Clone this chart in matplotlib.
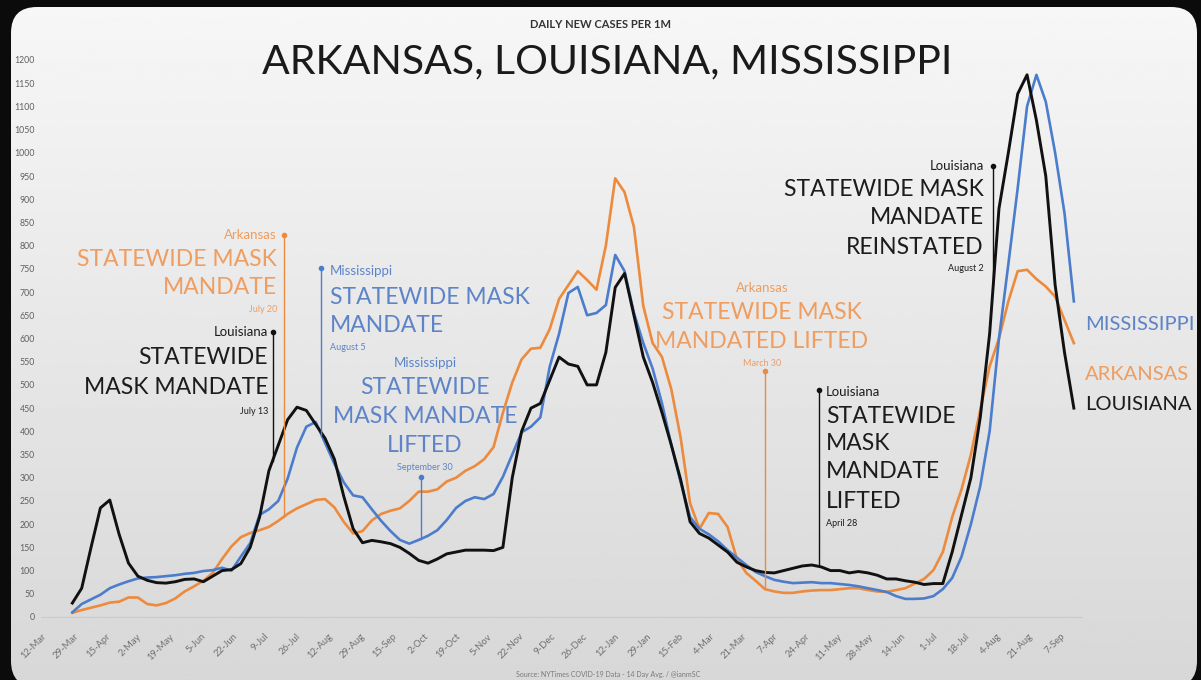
import numpy as np
import pandas as pd
import matplotlib
matplotlib.use("Agg")
import matplotlib.pyplot as plt
from matplotlib.patches import FancyBboxPatch

W, H = 1201, 680

# 14-day average of daily new cases per 1M, read every 5 days
dates = pd.date_range("2020-03-25", periods=108, freq="5D")
louisiana = [30, 62, 150, 235, 252, 178, 116, 88, 79, 74,
             73, 76, 81, 82, 76, 88, 100, 102, 115, 150,
             215, 315, 370, 425, 452, 445, 415, 385, 340, 260,
             190, 160, 165, 162, 158, 150, 137, 122, 116, 125,
             136, 140, 144, 144, 144, 143, 150, 300, 400, 450,
             460, 510, 560, 545, 540, 500, 500, 570, 710, 740,
             650, 560, 505, 440, 370, 295, 205, 180, 170, 155,
             140, 118, 108, 100, 96, 95, 100, 105, 110, 112,
             108, 100, 100, 95, 98, 95, 90, 82, 82, 78,
             75, 70, 72, 72, 140, 220, 300, 430, 610, 880,
             1000, 1127, 1168, 1070, 950, 715, 570, 450]
mississippi = [10, 28, 38, 48, 62, 70, 77, 83, 85, 86,
               88, 90, 93, 95, 99, 101, 106, 100, 130, 159,
               220, 232, 250, 298, 365, 410, 420, 375, 330, 290,
               262, 258, 232, 207, 185, 166, 158, 166, 175, 187,
               209, 235, 250, 258, 254, 265, 302, 350, 398, 410,
               430, 539, 610, 698, 711, 650, 655, 672, 780, 745,
               655, 590, 535, 460, 370, 290, 215, 190, 178, 163,
               144, 128, 112, 97, 88, 80, 76, 73, 74, 75,
               73, 73, 71, 69, 66, 62, 58, 54, 45, 39,
               39, 40, 45, 60, 84, 130, 200, 282, 400, 600,
               760, 924, 1100, 1168, 1110, 1000, 870, 680]
arkansas = [9, 15, 20, 25, 31, 33, 42, 42, 28, 25,
            30, 40, 55, 66, 78, 95, 125, 152, 172, 181,
            187, 194, 207, 222, 234, 243, 252, 254, 236, 205,
            180, 185, 208, 222, 229, 234, 250, 270, 270, 275,
            292, 300, 315, 325, 340, 366, 440, 505, 555, 578,
            580, 620, 685, 715, 745, 726, 705, 800, 945, 915,
            840, 670, 590, 560, 490, 385, 245, 190, 224, 222,
            194, 125, 95, 78, 60, 55, 52, 52, 55, 57,
            58, 58, 60, 62, 62, 58, 55, 54, 58, 62,
            72, 82, 101, 140, 215, 275, 350, 446, 540, 600,
            680, 745, 748, 728, 712, 690, 640, 590]

tick_dates = pd.date_range("2020-03-12", periods=33, freq="17D")
tick_labels = [f"{d.day}-{d.strftime('%b')}" for d in tick_dates]
y_ticks = list(range(0, 1201, 50))

C_LA = "#111111"
C_AR = "#ec8a3d"
C_MS = "#4b7dcc"
T_LA = "#1c1c1c"
T_AR = "#ef9d60"
T_MS = "#5d84c8"

fig = plt.figure(figsize=(W / 100, H / 100), dpi=100)
fig.patch.set_facecolor("#0b0b0b")

# background panel with a soft vertical gradient and rounded corners
bg = fig.add_axes([0, 0, 1, 1], zorder=-5)
bg.set_xlim(0, W)
bg.set_ylim(H, 0)
bg.axis("off")
grad = np.linspace(0.968, 0.845, 256).reshape(-1, 1)
img = bg.imshow(grad, cmap="gray", vmin=0, vmax=1, extent=[0, W, H, 0], aspect="auto")
panel = FancyBboxPatch((11 + 26, 7 + 26), 1186 - 52, 680 - 52,
                       boxstyle="round,pad=26", transform=bg.transData,
                       facecolor="none", edgecolor="none")
bg.add_patch(panel)
img.set_clip_path(panel)

# main plotting area
x0 = pd.Timestamp("2020-03-12")
px_per_day = 1.872
d_left, d_right = -4, 553
left_px = 48 + px_per_day * d_left
right_px = 48 + px_per_day * d_right
v_lo, v_hi = -20, 1220
bot_px = 617 - 0.4642 * v_lo
top_px = 617 - 0.4642 * v_hi
ax = fig.add_axes([left_px / W, 1 - bot_px / H, (right_px - left_px) / W, (bot_px - top_px) / H])
ax.set_facecolor("none")
ax.set_xlim(x0 + pd.Timedelta(days=d_left), x0 + pd.Timedelta(days=d_right))
ax.set_ylim(v_lo, v_hi)
for s in ax.spines.values():
    s.set_visible(False)

ax.axhline(0, color="#cdcdcd", lw=1, zorder=0)

ax.plot(dates, arkansas, color=C_AR, lw=1.9, zorder=3)
ax.plot(dates, mississippi, color=C_MS, lw=1.9, zorder=4)
ax.plot(dates, louisiana, color=C_LA, lw=2.1, zorder=5)

ax.set_xticks(tick_dates)
ax.set_xticklabels(tick_labels, rotation=45, ha="right", fontsize=6.8,
                   color="#707070", family="Lato")
ax.set_yticks(y_ticks)
ax.set_yticklabels([str(v) for v in y_ticks], fontsize=6.3, color="#606060", family="Lato")
ax.tick_params(length=0, pad=4)
ax.tick_params(axis="y", pad=4)

# mandate markers: (date drawn, top value, colour, series)
mandate_dates = ["2020-07-16", "2020-07-10", "2020-08-05", "2020-09-27",
                 "2021-03-30", "2021-04-28", "2021-07-30"]
mandate_tops = [823, 614, 752, 302, 530, 489, 972]
mandate_colors = [C_AR, C_LA, C_MS, C_MS, C_AR, C_LA, C_LA]
mandate_series = [arkansas, louisiana, mississippi, mississippi, arkansas, louisiana, louisiana]
num_dates = (dates - x0).days.values
for md, top, col, ser in zip(mandate_dates, mandate_tops, mandate_colors, mandate_series):
    t = pd.Timestamp(md)
    base = np.interp((t - x0).days, num_dates, ser)
    ax.plot([t, t], [base, top], color=col, lw=1.0, zorder=6)
    ax.plot([t], [top], "o", color=col, ms=3, zorder=6)


def ftext(x, y, s, **kw):
    fig.text(x / W, 1 - y / H, s, va="center", family="Lato", **kw)


BIG = 16.5
SMALL = 9.5
TINY = 6.5

# Arkansas, July 20
ftext(277, 235, "Arkansas", ha="right", fontsize=SMALL, color=T_AR)
ftext(277, 259, "STATEWIDE MASK", ha="right", fontsize=BIG, color=T_AR)
ftext(277, 287, "MANDATE", ha="right", fontsize=BIG, color=T_AR)
ftext(277, 310, "July 20", ha="right", fontsize=TINY, color=T_AR)

# Louisiana, July 13
ftext(268, 332, "Louisiana", ha="right", fontsize=SMALL, color=T_LA)
ftext(268, 358, "STATEWIDE", ha="right", fontsize=BIG, color=T_LA)
ftext(268, 387, "MASK MANDATE", ha="right", fontsize=BIG, color=T_LA)
ftext(268, 412, "July 13", ha="right", fontsize=TINY, color=T_LA)

# Mississippi, August 5
ftext(330, 271, "Mississippi", ha="left", fontsize=SMALL, color=T_MS)
ftext(330, 297, "STATEWIDE MASK", ha="left", fontsize=BIG, color=T_MS)
ftext(330, 325, "MANDATE", ha="left", fontsize=BIG, color=T_MS)
ftext(330, 347, "August 5", ha="left", fontsize=TINY, color=T_MS)

# Mississippi, September 30
ftext(425, 363, "Mississippi", ha="center", fontsize=SMALL, color=T_MS)
ftext(425, 388, "STATEWIDE", ha="center", fontsize=BIG, color=T_MS)
ftext(425, 416, "MASK MANDATE", ha="center", fontsize=BIG, color=T_MS)
ftext(425, 445, "LIFTED", ha="center", fontsize=BIG, color=T_MS)
ftext(425, 467, "September 30", ha="center", fontsize=TINY, color=T_MS)

# Arkansas, March 30
ftext(762, 288, "Arkansas", ha="center", fontsize=SMALL, color=T_AR)
ftext(762, 313, "STATEWIDE MASK", ha="center", fontsize=BIG, color=T_AR)
ftext(762, 341, "MANDATED LIFTED", ha="center", fontsize=BIG, color=T_AR)
ftext(762, 364, "March 30", ha="center", fontsize=TINY, color=T_AR)

# Louisiana, April 28
ftext(826, 392, "Louisiana", ha="left", fontsize=SMALL, color=T_LA)
ftext(826, 416, "STATEWIDE", ha="left", fontsize=BIG, color=T_LA)
ftext(826, 444, "MASK", ha="left", fontsize=BIG, color=T_LA)
ftext(826, 472, "MANDATE", ha="left", fontsize=BIG, color=T_LA)
ftext(826, 501, "LIFTED", ha="left", fontsize=BIG, color=T_LA)
ftext(826, 523, "April 28", ha="left", fontsize=TINY, color=T_LA)

# Louisiana, August 2
ftext(984, 166, "Louisiana", ha="right", fontsize=SMALL, color=T_LA)
ftext(984, 190, "STATEWIDE MASK", ha="right", fontsize=BIG, color=T_LA)
ftext(984, 218, "MANDATE", ha="right", fontsize=BIG, color=T_LA)
ftext(984, 247, "REINSTATED", ha="right", fontsize=BIG, color=T_LA)
ftext(984, 269, "August 2", ha="right", fontsize=TINY, color=T_LA)

# end-of-line labels
ftext(1085, 324, "MISSISSIPPI", ha="left", fontsize=14.5, color=T_MS)
ftext(1085, 375, "ARKANSAS", ha="left", fontsize=14.5, color=T_AR)
ftext(1085, 405, "LOUISIANA", ha="left", fontsize=14.5, color=T_LA)

# titles and source
ftext(601, 25, "DAILY NEW CASES PER 1M", ha="center", fontsize=8, color="#333333",
      fontweight="bold")
ftext(607, 62, "ARKANSAS, LOUISIANA, MISSISSIPPI", ha="center", fontsize=29.5,
      color="#1a1a1a")
ftext(608, 675, "Source: NYTimes COVID-19 Data - 14 Day Avg. / @ianmSC", ha="center",
      fontsize=5, color="#7a7a7a")

fig.savefig("out.png", dpi=100, facecolor=fig.get_facecolor())
